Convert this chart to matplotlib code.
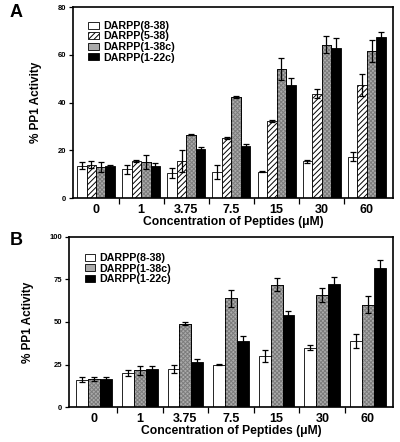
import matplotlib.pyplot as plt
import numpy as np

plt.rcParams['font.family'] = ['Liberation Sans', 'DejaVu Sans']
plt.rcParams['font.weight'] = 'bold'
plt.rcParams['hatch.linewidth'] = 0.7

conc = ['0', '1', '3.75', '7.5', '15', '30', '60']

# panel A
a_8_38 = [13.5, 12, 10.5, 11, 11, 15.3, 17.3]
a_8_38_err = [1.5, 2, 2, 3, 0.3, 0.8, 2]
a_5_38 = [14, 15.5, 15.5, 25.2, 32.3, 43.7, 47.3]
a_5_38_err = [1.5, 0.3, 4.5, 0.3, 0.5, 2, 4.5]
a_1_38c = [13, 15, 26.5, 42.5, 54, 64.2, 61.5]
a_1_38c_err = [2, 3, 0.3, 0.4, 4.5, 3.5, 4.5]
a_1_22c = [13.3, 13.5, 20.5, 21.7, 47.3, 62.7, 67.6]
a_1_22c_err = [0.5, 1, 0.8, 1, 3, 4.5, 2]

# panel B
b_8_38 = [16, 20, 22.5, 25, 30, 35, 39]
b_8_38_err = [1.5, 1.5, 2.5, 0.5, 3.5, 1.5, 4]
b_1_38c = [16.5, 21.5, 49, 64, 72, 66, 60]
b_1_38c_err = [1, 2.5, 1, 5, 4, 4, 5]
b_1_22c = [16.5, 22.5, 26.5, 39, 54, 72.5, 81.5]
b_1_22c_err = [1, 1.5, 1.5, 3, 2.5, 4, 5]

styles = {
    'DARPP(8-38)': dict(color='white'),
    'DARPP(5-38)': dict(color='white', hatch='//////'),
    'DARPP(1-38c)': dict(color='#ababab', hatch='xxxxxxxx', hc='#7c7c7c'),
    'DARPP(1-22c)': dict(color='black'),
}


def draw_bars(ax, x, vals, errs, name, w):
    st = styles[name]
    bars = ax.bar(x, vals, w, color=st['color'], edgecolor='black', linewidth=0.6, label=name)
    if 'hc' in st:
        ax.bar(x, vals, w, color='none', edgecolor=st['hc'], hatch=st['hatch'], linewidth=0)
        ax.bar(x, vals, w, color='none', edgecolor='black', linewidth=0.6)
    elif 'hatch' in st:
        for b in bars:
            b.set_hatch(st['hatch'])
    ax.errorbar(x, vals, yerr=errs, fmt='none', ecolor='black', elinewidth=0.9, capsize=2.2, capthick=0.9)
    return bars


def panel(ax, series, w, ylim, yticks, xlim, leg_anchor):
    x = np.arange(len(conc))
    n = len(series)
    handles = []
    for i, (name, vals, errs) in enumerate(series):
        off = (i - (n - 1) / 2) * w
        handles.append(draw_bars(ax, x + off, vals, errs, name, w))
    ax.set_xlim(*xlim)
    ax.set_ylim(*ylim)
    ax.set_yticks(yticks)
    ax.set_xticks(x)
    ax.set_xticklabels(conc, fontsize=9)
    ax.tick_params(axis='x', length=0, pad=4)
    ax.set_xticks(np.arange(0.5, 6.5, 1), minor=True)
    ax.tick_params(axis='x', which='minor', length=4, width=0.9, direction='out')
    ax.tick_params(axis='y', labelsize=5.5, length=3, width=0.9, pad=2)
    for s in ax.spines.values():
        s.set_linewidth(1.2)
    ax.set_xlabel('Concentration of Peptides (\u03bcM)', fontsize=8.7, fontweight='bold', labelpad=0)
    ax.set_ylabel('% PP1 Activity', fontsize=8.5, fontweight='bold', labelpad=11)
    ax.legend(handles=handles, loc='upper left', frameon=False, fontsize=7.7,
              handlelength=1.0, handleheight=0.6, handletextpad=0.4,
              labelspacing=0.05, borderaxespad=0, bbox_to_anchor=leg_anchor)


fig = plt.figure(figsize=(4, 4.42), dpi=100)
axA = fig.add_axes([0.1825, 0.552, 0.8, 0.432])
axB = fig.add_axes([0.1725, 0.079, 0.81, 0.385])

panel(axA, [('DARPP(8-38)', a_8_38, a_8_38_err),
            ('DARPP(5-38)', a_5_38, a_5_38_err),
            ('DARPP(1-38c)', a_1_38c, a_1_38c_err),
            ('DARPP(1-22c)', a_1_22c, a_1_22c_err)],
      0.21, (0, 80), [0, 20, 40, 60, 80], (-0.51, 6.58), (0.035, 0.95))

panel(axB, [('DARPP(8-38)', b_8_38, b_8_38_err),
            ('DARPP(1-38c)', b_1_38c, b_1_38c_err),
            ('DARPP(1-22c)', b_1_22c, b_1_22c_err)],
      0.26, (0, 100), [0, 25, 50, 75, 100], (-0.55, 6.55), (0.035, 0.93))

fig.text(0.025, 0.972, 'A', fontsize=13, fontweight='bold', va='center')
fig.text(0.025, 0.455, 'B', fontsize=13, fontweight='bold', va='center')

fig.savefig('out.png', dpi=100)
